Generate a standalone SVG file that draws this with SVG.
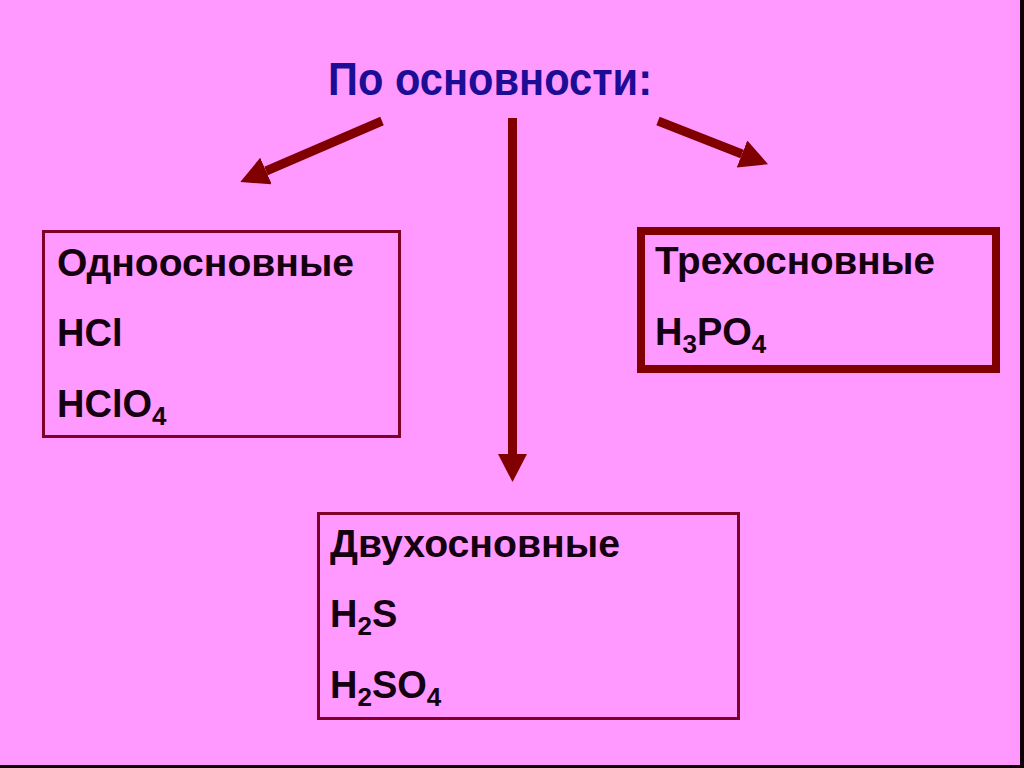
<svg xmlns="http://www.w3.org/2000/svg" width="1024" height="768" viewBox="0 0 1024 768">
  <defs>
    <marker id="head" markerUnits="userSpaceOnUse" markerWidth="30" markerHeight="30" refX="0" refY="14.5" orient="auto" viewBox="0 0 30 30">
      <path d="M0,0 L28,14.5 L0,29 Z" fill="#800000"/>
    </marker>
    <style>
      .bg { fill: #ff99ff; }
      .box { fill: none; stroke: #80002a; stroke-width: 3; }
      .boxthick { fill: none; stroke: #800000; stroke-width: 8; }
      .lbl { font-family: "Liberation Sans", Arial, sans-serif; font-weight: bold; font-size: 38px; fill: #140010; }
      .sub { font-size: 26px; }
      .title { font-family: "Liberation Sans", Arial, sans-serif; font-weight: bold; font-size: 46px; fill: #1c0c96; }
      .conn { stroke: #800000; stroke-width: 9; fill: none; marker-end: url(#head); }
    </style>
  </defs>
  <rect class="bg" x="0" y="0" width="1024" height="768"/>
  <rect x="1020" y="0" width="4" height="768" fill="#100008"/>
  <rect x="0" y="765" width="1024" height="3" fill="#100008"/>

  <g id="title">
    <text class="title" x="328" y="95" textLength="324" lengthAdjust="spacingAndGlyphs">По основности:</text>
  </g>

  <g id="connectors">
    <line class="conn" x1="382" y1="121" x2="266" y2="171"/>
    <line class="conn" x1="512.5" y1="118" x2="512.5" y2="454"/>
    <line class="conn" x1="658" y1="121" x2="742" y2="154"/>
  </g>

  <g id="node-mono">
    <rect class="box" x="43.5" y="231.5" width="356" height="205"/>
    <text class="lbl" x="57" y="276" textLength="297" lengthAdjust="spacingAndGlyphs">Одноосновные</text>
    <text class="lbl" x="57" y="346">HCl</text>
    <text class="lbl" x="57" y="417">HClO<tspan class="sub" dy="8">4</tspan></text>
  </g>

  <g id="node-tri">
    <rect class="boxthick" x="641" y="231" width="355" height="138"/>
    <text class="lbl" x="655" y="274" textLength="280" lengthAdjust="spacingAndGlyphs">Трехосновные</text>
    <text class="lbl" x="655" y="345">H<tspan class="sub" dy="8">3</tspan><tspan dy="-8">PO</tspan><tspan class="sub" dy="8">4</tspan></text>
  </g>

  <g id="node-di">
    <rect class="box" x="318.5" y="513.5" width="420" height="205"/>
    <text class="lbl" x="330" y="557" textLength="290" lengthAdjust="spacingAndGlyphs">Двухосновные</text>
    <text class="lbl" x="330" y="627">H<tspan class="sub" dy="8">2</tspan><tspan dy="-8">S</tspan></text>
    <text class="lbl" x="330" y="698">H<tspan class="sub" dy="8">2</tspan><tspan dy="-8">SO</tspan><tspan class="sub" dy="8">4</tspan></text>
  </g>
</svg>
